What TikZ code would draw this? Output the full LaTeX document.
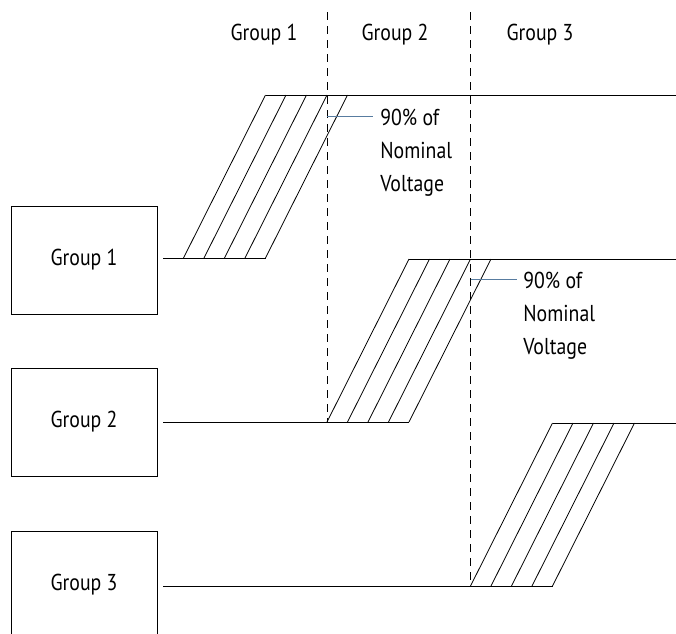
\documentclass[tikz,border=0pt]{standalone}
\usepackage{fontspec}
\setmainfont[FakeStretch=0.86]{PT Sans}
\usepackage{xcolor}
\usetikzlibrary{positioning}
\definecolor{leadblue}{RGB}{88,124,160}

\begin{document}
\begin{tikzpicture}[x=1pt,y=-1pt,line width=0.8pt,
  every node/.style={font=\fontsize{23}{33}\selectfont},
  grpbox/.style={draw,minimum width=146pt,minimum height=108pt},
  marker/.style={dash pattern=on 8pt off 6pt},
  lead/.style={draw=leadblue,line width=0.9pt},
  note/.style={align=left,anchor=base west,inner sep=0pt}]
\useasboundingbox (0,0) rectangle (676,633);

\node[anchor=base] (head1) at (264,40) {Group 1};
\node[anchor=base] (head2) at (395,40) {Group 2};
\node[anchor=base] (head3) at (540,40) {Group 3};

\node[grpbox] (box1) at (84,260) {Group 1};
\node[grpbox] (box2) at (84,422) {Group 2};
\node[grpbox] (box3) at (84,585) {Group 3};

\coordinate (d1top) at (327,12);
\coordinate (d1bot) at (327,422);
\coordinate (d2top) at (470.5,12);
\coordinate (d2bot) at (470.5,586);
\draw[marker] (d1top) -- (d1bot);
\draw[marker] (d2top) -- (d2bot);

\draw ([xshift=6pt]box1.east |- 0,258) -- (265.5,258);
\foreach \i in {0,...,4} \draw (183.5+20.5*\i,258) -- ++(82,-163);
\draw (265.5,95) -- (676,95);

\draw ([xshift=6pt]box2.east |- 0,422) -- (409,422);
\foreach \i in {0,...,4} \draw (327+20.5*\i,422) -- ++(82,-163);
\draw (409,259) -- (676,259);

\draw ([xshift=6pt]box3.east |- 0,586) -- (552.5,586);
\foreach \i in {0,...,4} \draw (470.5+20.5*\i,586) -- ++(82,-163);
\draw (552.5,423) -- (676,423);

\node[note] (note1) at (380,191) {90\% of\\Nominal\\Voltage};
\node[note] (note2) at (523,354) {90\% of\\Nominal\\Voltage};
\coordinate (tap1) at (327,116);
\coordinate (tap2) at (470.5,279);
\draw[lead] (tap1) -- ([xshift=-7pt]note1.west |- tap1);
\draw[lead] (tap2) -- ([xshift=-6pt]note2.west |- tap2);
\end{tikzpicture}
\end{document}
